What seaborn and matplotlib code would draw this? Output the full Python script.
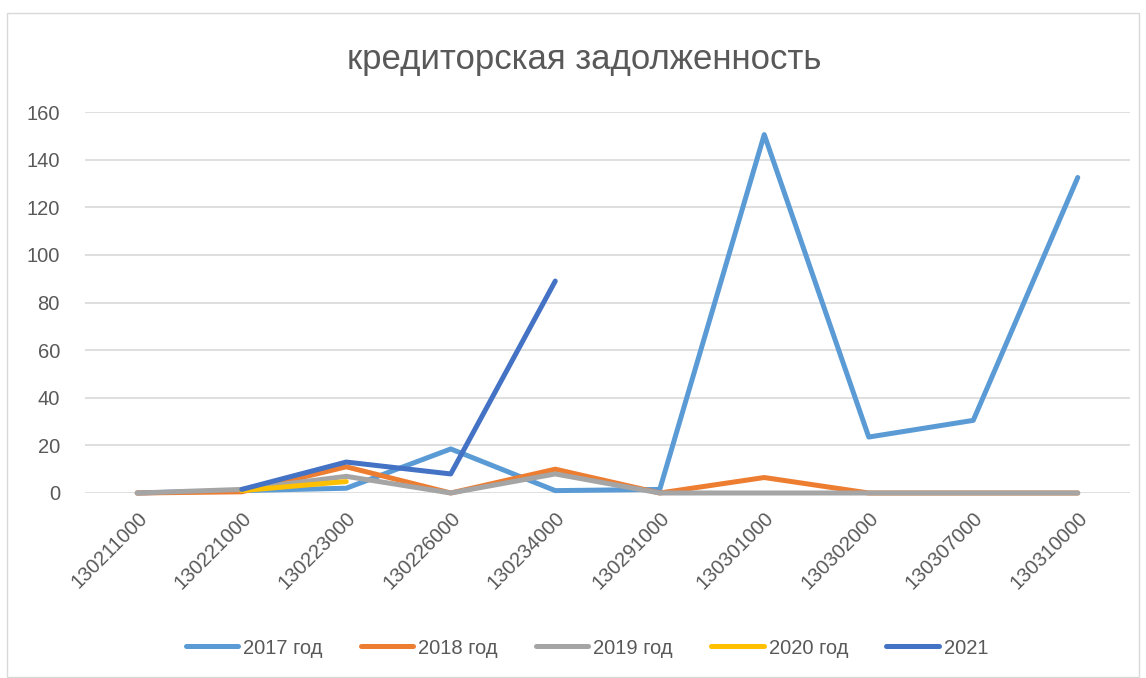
import numpy as np
import pandas as pd
import matplotlib.pyplot as plt
import seaborn as sns
from matplotlib.patches import Rectangle

# categories on the x axis
codes = ['130211000', '130221000', '130223000', '130226000', '130234000',
         '130291000', '130301000', '130302000', '130307000', '130310000']

# series values
y2017 = [0, 1, 2, 18.5, 1, 1.5, 150.5, 23.5, 30.5, 132.5]
y2018 = [0, 0.5, 11, 0, 10, 0, 6.5, 0, 0, 0]
y2019 = [0, 1.5, 7, 0, 8, 0, 0, 0, 0, 0]
y2020 = [np.nan, 1, 4.8, np.nan, np.nan, np.nan, np.nan, np.nan, np.nan, np.nan]
y2021 = [np.nan, 1.5, 13, 8, 89, np.nan, np.nan, np.nan, np.nan, np.nan]

series_names = ['2017 год', '2018 год', '2019 год', '2020 год', '2021']
colors = ['#5B9BD5', '#ED7D31', '#A5A5A5', '#FFC000', '#4472C4']

rows = []
for name, vals in zip(series_names, [y2017, y2018, y2019, y2020, y2021]):
    for i, v in enumerate(vals):
        rows.append({'pos': i, 'code': codes[i], 'value': v, 'series': name})
df = pd.DataFrame(rows).dropna()

sns.set_theme(style='white')
plt.rcParams['font.family'] = ['Liberation Sans', 'DejaVu Sans']
text_col = '#595959'

fig = plt.figure(figsize=(11.46, 6.78), dpi=100)
ax = fig.add_axes([85 / 1146, 1 - 493 / 678, (1130 - 85) / 1146, (493 - 112) / 678])

sns.lineplot(data=df, x='pos', y='value', hue='series', hue_order=series_names,
             palette=colors, linewidth=3.6, ax=ax, sort=False,
             estimator=None, legend=True)
for ln in ax.get_lines():
    ln.set_solid_capstyle('round')
    ln.set_solid_joinstyle('round')
    ln.set_clip_on(False)

ax.set_xlim(-0.5, len(codes) - 0.5)
ax.set_ylim(0, 160)
ax.set_yticks(range(0, 161, 20))
ax.set_xticks(range(len(codes)))
ax.set_xticklabels(codes, rotation=45, ha='right', rotation_mode='anchor')
ax.tick_params(axis='both', labelsize=14.5, colors=text_col, length=0)
ax.tick_params(axis='x', pad=11)
ax.tick_params(axis='y', pad=18)
ax.yaxis.grid(True, color='#D9D9D9', linewidth=1.2)
ax.set_axisbelow(True)
for s in ax.spines.values():
    s.set_visible(False)
ax.set_xlabel('')
ax.set_ylabel('')

fig.text(584 / 1146, 1 - 60 / 678, 'кредиторская задолженность', ha='center', va='center',
         fontsize=25, color=text_col)

handles, labels = ax.get_legend_handles_labels()
for h in handles:
    h.set_linewidth(3.6)
    h.set_solid_capstyle('round')
ax.legend(handles, labels, loc='center',
          bbox_to_anchor=((587 - 85) / 1045, (493 - 648) / (493 - 112)),
          ncol=5, frameon=False, fontsize=14.5, labelcolor=text_col,
          handlelength=2.6, handletextpad=0.25, columnspacing=1.9)

fig.patches.append(Rectangle((7 / 1146, 0.002), 1 - 14 / 1146, 1 - 13 / 678 - 0.002,
                             transform=fig.transFigure, fill=False,
                             edgecolor='#D9D9D9', linewidth=1))

fig.savefig('out.png', dpi=100, facecolor='white')
